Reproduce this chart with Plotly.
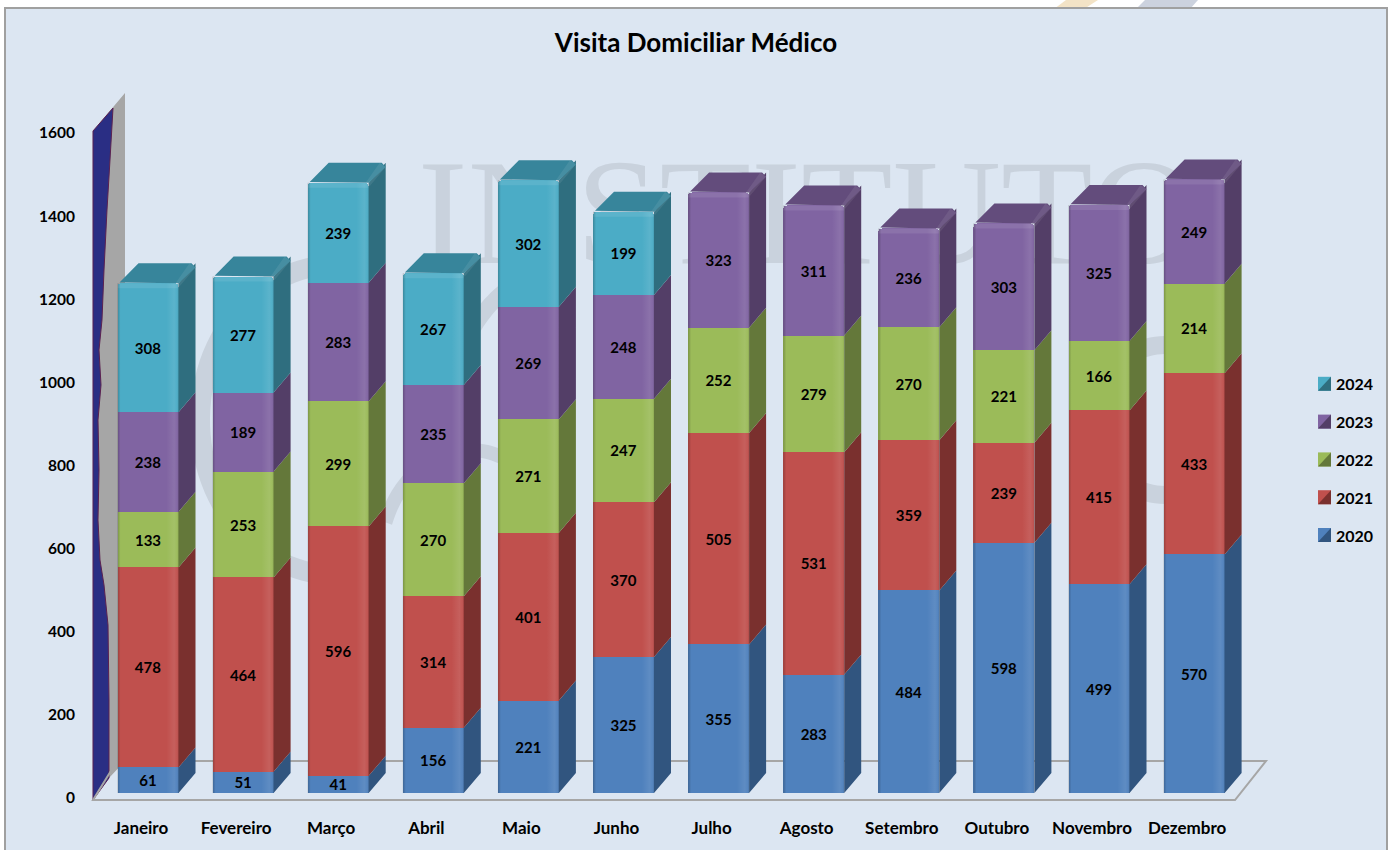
import numpy as np
import plotly.graph_objects as go

months = ["Janeiro", "Fevereiro", "Março", "Abril", "Maio", "Junho", "Julho",
          "Agosto", "Setembro", "Outubro", "Novembro", "Dezembro"]
years = ["2020", "2021", "2022", "2023", "2024"]
v2020 = [61, 51, 41, 156, 221, 325, 355, 283, 484, 598, 499, 570]
v2021 = [478, 464, 596, 314, 401, 370, 505, 531, 359, 239, 415, 433]
v2022 = [133, 253, 299, 270, 271, 247, 252, 279, 270, 221, 166, 214]
v2023 = [238, 189, 283, 235, 269, 248, 323, 311, 236, 303, 325, 249]
v2024 = [308, 277, 239, 267, 302, 199, None, None, None, None, None, None]
y_ticks = [0, 200, 400, 600, 800, 1000, 1200, 1400, 1600]
front = ["#4f81bd", "#c0504d", "#9bbb59", "#8064a2", "#4bacc6"]
side = ["#31557f", "#7a302e", "#64783a", "#533e67", "#2f6e7f"]
top = ["#3a6595", "#8f3b39", "#76903f", "#634c7c", "#37859b"]
series = [v2020, v2021, v2022, v2023, v2024]

W, H = 1397, 850
FONT = "Lato"
step, x0 = 95.1, 148.0
barw = 61 / step
dx = 17 / step
k_bar = 0.4185
dy = 20 / k_bar
L, R, T, B = 93, 1266, 93, 800

def px(x):
    return x / W
def py(y):
    return 1 - y / H
def path(pts, close=True):
    s = "M" + " L".join(f"{px(a):.5f},{py(b):.5f}" for a, b in pts)
    return s + (" Z" if close else "")
def arc(cx, cy, rx, ry, a0, a1, width):
    t = np.radians(np.linspace(a0, a1, 50))
    outer = [(cx + (rx + width / 2) * np.cos(a), cy + (ry + width / 2) * np.sin(a)) for a in t]
    inner = [(cx + (rx - width / 2) * np.cos(a), cy + (ry - width / 2) * np.sin(a)) for a in t[::-1]]
    return path(outer + inner)

WM = "#c9d2dd"
shapes = [
    dict(type="path", path=path([(1066, 0), (1098, 0), (1084, 9), (1054, 9)]), xref="paper", yref="paper",
         fillcolor="#f3e3c6", line_width=0, layer="below"),
    dict(type="path", path=path([(1145, 0), (1198, 0), (1190, 9), (1136, 9)]), xref="paper", yref="paper",
         fillcolor="#ccd2de", line_width=0, layer="below"),
    dict(type="rect", x0=px(5), x1=px(1387), y0=py(860), y1=py(8), xref="paper", yref="paper",
         fillcolor="#dce6f2", line=dict(color="#a0a0a0", width=2), layer="below"),
]
for a in [(335, 420, 135, 155, 100, 265, 20), (575, 415, 125, 150, 175, 260, 16),
          (1165, 420, 70, 75, 90, 270, 18), (470, 560, 90, 110, 200, 290, 14)]:
    shapes.append(dict(type="path", path=arc(*a), xref="paper", yref="paper",
                       fillcolor=WM, line_width=0, layer="below"))
wave = [(113, 108), (110, 160), (107, 210), (104, 270), (102, 320), (99, 350), (101, 385), (98, 420),
        (99, 470), (98, 520), (100, 560), (104, 585), (108, 625), (109, 700), (109, 778)]
shapes += [
    dict(type="path", path=path([(98, 125), (125, 93), (125, 761), (109, 778), (98, 790)]), xref="paper", yref="paper",
         fillcolor="#a6a6a6", line_width=0, layer="below"),
    dict(type="path", path=path([(93, 131)] + wave + [(93, 800)]), xref="paper", yref="paper",
         fillcolor="#2a2e84", line=dict(color="#5b2150", width=1), layer="below"),
    dict(type="path", path=path([(93, 800), (1235, 800), (1266, 761), (117, 761)]), xref="paper", yref="paper",
         fillcolor="rgba(0,0,0,0)", line=dict(color="#a6a6a6", width=2), layer="below"),
]

fig = go.Figure()
idx = list(range(len(months)))

fig.add_trace(go.Scatter(x=[(808 - x0) / step], y=[(798 - 225) / 0.4156], mode="text", text=["INSTITUTO"],
                         textposition="middle center", textfont=dict(family="Liberation Serif", size=150, color=WM),
                         hoverinfo="skip", showlegend=False, cliponaxis=False))

for s, vals in enumerate(series):
    fig.add_trace(go.Bar(
        x=idx, y=vals, name=years[s], yaxis="y2", width=barw,
        marker=dict(color=front[s], line=dict(width=0)),
        text=["" if v is None else str(v) for v in vals],
        textposition="inside", insidetextanchor="middle", textangle=0, constraintext="none",
        textfont=dict(family=FONT, size=15, color="black", weight="bold"),
        showlegend=False, hoverinfo="skip"))

cum = [0] * 12
for s, vals in enumerate(series):
    xs, ys, xt, yt = [], [], [], []
    for i, v in enumerate(vals):
        if v is None:
            continue
        a, b = cum[i], cum[i] + v
        cum[i] = b
        r = i + barw / 2
        xs += [r, r + dx, r + dx, r, None]
        ys += [a, a + dy, b + dy, b, None]
    fig.add_trace(go.Scatter(x=xs, y=ys, yaxis="y2", mode="lines", fill="toself", fillcolor=side[s],
                             line=dict(width=0), hoverinfo="skip", showlegend=False))
    hx, hy, sx, sy = [], [], [], []
    for i, v in enumerate(vals):
        if v is None:
            continue
        if [q[i] for q in series[s + 1:] if q[i] is not None]:
            continue
        l, r = i - barw / 2, i + barw / 2
        c = cum[i]
        xt += [l + 2 / step, l + 21 / step, r + dx - 4 / step, r + dx, r, None]
        yt += [c + 2, c + dy, c + dy, c + dy - 10, c, None]
        hx += [l, r, r, l, None]
        hy += [c, c, c - 12, c - 12, None]
        sx += [r - 3 / step, r + dx - 6 / step, r + dx, r + 1 / step, None]
        sy += [c, c + dy, c + dy - 10, c - 8, None]
    if xt:
        fig.add_trace(go.Scatter(x=xt, y=yt, yaxis="y2", mode="lines", fill="toself", fillcolor=top[s],
                                 line=dict(width=0), hoverinfo="skip", showlegend=False))
        fig.add_trace(go.Scatter(x=sx, y=sy, yaxis="y2", mode="lines", fill="toself",
                                 fillcolor="rgba(255,255,255,0.08)",
                                 line=dict(width=0), hoverinfo="skip", showlegend=False))
        fig.add_trace(go.Scatter(x=hx, y=hy, yaxis="y2", mode="lines", fill="toself",
                                 fillcolor="rgba(255,255,255,0.09)",
                                 line=dict(width=0), hoverinfo="skip", showlegend=False))

scale = [[0, "rgba(0,0,0,0.22)"], [0.05, "rgba(0,0,0,0)"], [0.8, "rgba(255,255,255,0)"],
         [0.93, "rgba(255,255,255,0.09)"], [0.97, "rgba(255,255,255,0.04)"], [1, "rgba(0,0,0,0.12)"]]
for i in idx:
    l, r = i - barw / 2, i + barw / 2
    fig.add_trace(go.Scatter(x=[l, r, r, l, l], y=[0, 0, cum[i], cum[i], 0], yaxis="y2", mode="lines",
                             fill="toself", line=dict(width=0),
                             fillgradient=dict(type="horizontal", colorscale=scale),
                             hoverinfo="skip", showlegend=False))

ann = []
for s, yr in enumerate(years):
    yc = 535 - s * 37.8
    xl, xr = 1318, 1331
    yt, yb = yc - 7, yc + 7
    cx, cy = (xl + xr) / 2, yc
    shapes.append(dict(type="rect", x0=px(xl), x1=px(xr), y0=py(yb), y1=py(yt), xref="paper", yref="paper",
                       fillcolor=front[s], line_width=0))
    shapes.append(dict(type="path", path=path([(xl, yb), (xr, yb), (xr, yt), (cx, cy)]), xref="paper", yref="paper",
                       fillcolor=side[s], line_width=0))
    ann.append(dict(text=yr, x=px(1334), y=py(yc), xref="paper", yref="paper", xanchor="left", yanchor="middle",
                    showarrow=False, font=dict(family=FONT, size=16, color="black", weight="bold")))

fig.update_layout(
    template="none",
    width=W, height=H, margin=dict(l=0, r=0, t=0, b=0, pad=0, autoexpand=False),
    paper_bgcolor="white", plot_bgcolor="rgba(0,0,0,0)",
    barmode="stack", barcornerradius=4, shapes=shapes, annotations=ann, showlegend=False,
    title=dict(text="Visita Domiciliar Médico", x=696 / W, y=py(43), xref="paper", yref="paper",
               xanchor="center", yanchor="middle",
               font=dict(family=FONT, size=26, color="black", weight="bold")),
    xaxis=dict(domain=[px(L), px(R)], range=[(L - x0) / step, (R - x0) / step], showgrid=False, zeroline=False,
               tickmode="array", tickvals=[i - 7 / step for i in idx], ticktext=months, automargin=False,
               ticks="outside", ticklen=13, tickcolor="rgba(0,0,0,0)", showline=False,
               tickfont=dict(family=FONT, size=17, color="black", weight="bold"), fixedrange=True),
    yaxis=dict(domain=[py(B), py(T)], range=[(798 - B) / 0.4156, (798 - T) / 0.4156], showgrid=False, zeroline=False,
               tickmode="array", tickvals=y_ticks, ticktext=[str(t) for t in y_ticks], automargin=False,
               ticks="outside", ticklen=14, tickcolor="rgba(0,0,0,0)", showline=False,
               tickfont=dict(family=FONT, size=15.5, color="black", weight="bold"), fixedrange=True),
    yaxis2=dict(domain=[py(B), py(T)], range=[(793 - B) / k_bar, (793 - T) / k_bar], overlaying="y", anchor="x",
                visible=False, fixedrange=True),
)
fig.write_html("out.html", config=dict(displayModeBar=False),
               post_script="document.body.style.margin='0';document.body.style.overflow='hidden';")
